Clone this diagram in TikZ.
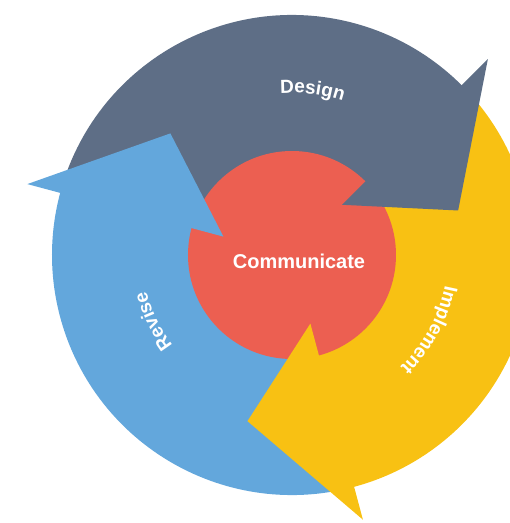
\documentclass[tikz,border=0pt]{standalone}
\usepackage{fontspec}
\setmainfont{Liberation Sans}
\usetikzlibrary{decorations.text}

\definecolor{designgray}{HTML}{5E6E86}
\definecolor{reviseblue}{HTML}{63A7DC}
\definecolor{implyellow}{HTML}{F8C113}
\definecolor{commred}{HTML}{EC5F51}

\begin{document}
\begin{tikzpicture}[x=1pt, y=1pt,
		ringlabel/.style={decorate, decoration={text along path, text align=center,
			text={|\bfseries\fontsize{19}{19}\selectfont\color{white}|#1}}}]
	\clip (-292,-268) rectangle (218,255);

	% Ring sectors (each runs a degree on, under its own head)
	\fill[designgray] (0,0) -- (165:240) arc[start angle=165, end angle=44, radius=240] -- cycle;
	\fill[implyellow] (0,0) -- (44:240) arc[start angle=44, end angle=-76, radius=240] -- cycle;
	\fill[reviseblue] (0,0) -- (-76:240) arc[start angle=-76, end angle=-196, radius=240] -- cycle;

	% Centre disc
	\fill[commred] (0,0) circle[radius=104];

	% Arrow heads
	\fill[designgray] (45:277) -- (15:172) -- (45:71) -- cycle;
	\fill[implyellow] (-75:274) -- (-105:172) -- (-75:71) -- cycle;
	\fill[reviseblue] (165:274) -- (135:172) -- (165:71) -- cycle;

	% Labels
	\node[font=\bfseries\fontsize{20}{20}\selectfont, text=white] (comm) at (7,-6) {Communicate};
	\path[ringlabel=Design] (107.9:162) arc[start angle=107.9, end angle=57.9, radius=162];
	\path[ringlabel=Implement] (356.4:156) arc[start angle=356.4, end angle=306.4, radius=156];
	\path[ringlabel=Revise] (230.6:150) arc[start angle=230.6, end angle=180.6, radius=150];
\end{tikzpicture}
\end{document}
